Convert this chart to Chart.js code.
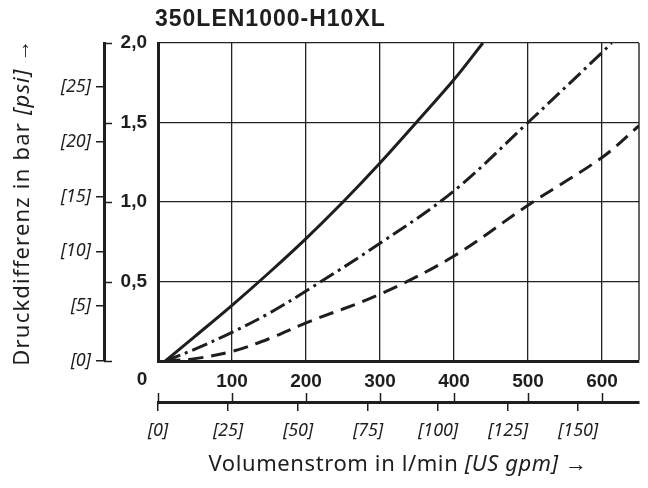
<!DOCTYPE html>
<html>
<head>
<meta charset="utf-8">
<script src="https://cdn.jsdelivr.net/npm/chart.js@4.4.1/dist/chart.umd.min.js"></script>
<style>
  body { margin: 0; background: #fff; }
  canvas { display: block; }
</style>
</head>
<body>
<canvas id="myChart" width="648" height="488"></canvas>
<script>
// flow in l/min, pressure drop in bar
const flowSolid = [10, 50, 100, 150, 200, 250, 300, 350, 400, 439];
const dpSolid = [0, 0.155, 0.35, 0.555, 0.77, 1.0, 1.245, 1.505, 1.77, 2.0];

const flowDashDot = [10, 50, 100, 150, 200, 300, 400, 500, 600, 613];
const dpDashDot = [0, 0.075, 0.18, 0.3, 0.44, 0.74, 1.07, 1.5, 1.94, 2.0];

const flowDashed = [10, 50, 100, 150, 200, 300, 400, 500, 600, 650];
const dpDashed = [0, 0.015, 0.06, 0.14, 0.24, 0.42, 0.66, 0.98, 1.28, 1.48];

const flowTicks = [0, 100, 200, 300, 400, 500, 600];
const gpmTicks = [0, 25, 50, 75, 100, 125, 150];
const barTicks = [0, 0.5, 1.0, 1.5, 2.0];
const psiTicks = [0, 5, 10, 15, 20, 25];

const FLOW_MAX = 650;
const LPM_PER_GPM = 3.785;
const PSI_PER_BAR = 14.5038;
const ink = '#1e1e1e';

const toPoints = (xs, ys) => xs.map((x, i) => ({ x: x, y: ys[i] }));

const extras = {
    id: 'extras',
    afterDraw(chart) {
        const c = chart.ctx;
        const x = chart.scales.x, y = chart.scales.y;
        const gpm = chart.scales.gpm, psi = chart.scales.psi;
        c.save();
        c.strokeStyle = ink;
        c.lineWidth = 1.5;
        // bar ticks pointing right from the outer axis line
        barTicks.forEach(v => {
            const py = Math.round(y.getPixelForValue(v)) + 0.5;
            c.beginPath();
            c.moveTo(psi.right, py);
            c.lineTo(psi.right + 8, py);
            c.stroke();
        });
        // l/min ticks on top of the gpm axis line
        flowTicks.forEach(v => {
            const px = Math.round(x.getPixelForValue(v)) + 0.5;
            c.beginPath();
            c.moveTo(px, gpm.top);
            c.lineTo(px, gpm.top - 9);
            c.stroke();
        });
        c.fillStyle = ink;
        // corner zero
        c.font = 'bold 19px "Liberation Sans"';
        c.textAlign = 'center';
        c.textBaseline = 'middle';
        c.fillText('0', x.left - 16, x.top + 19);
        // title
        c.font = 'bold 23px "Liberation Sans"';
        c.letterSpacing = '1px';
        c.textAlign = 'left';
        c.textBaseline = 'alphabetic';
        c.fillText('350LEN1000-H10XL', 155, 26);
        // axis titles with italic unit parts
        const drawParts = (list, size, spacing, cx, cy) => {
            const normal = size + 'px "Noto Sans"';
            const italic = 'italic ' + size + 'px "Noto Sans"';
            c.letterSpacing = spacing;
            let w = 0;
            list.forEach(p => { c.font = p[1] ? italic : normal; w += c.measureText(p[0]).width; });
            let px = cx - w / 2;
            list.forEach(p => {
                c.font = p[1] ? italic : normal;
                c.fillText(p[0], px, cy);
                px += c.measureText(p[0]).width;
            });
        };
        drawParts([['Volumenstrom in l/min ', false], ['[US gpm]', true], [' \u2192', false]], 22, '0.6px', 398, 471);
        c.translate(29, 202);
        c.rotate(-Math.PI / 2);
        drawParts([['Druckdifferenz in bar ', false], ['[psi]', true], [' \u2192', false]], 22, '1.2px', 0, 0);
        c.restore();
    }
};

const ctx = document.getElementById('myChart').getContext('2d');
const myChart = new Chart(ctx, {
    type: 'line',
    data: {
        datasets: [{
            data: toPoints(flowSolid, dpSolid),
            borderColor: ink,
            borderWidth: 3
        }, {
            data: toPoints(flowDashDot, dpDashDot),
            borderColor: ink,
            borderWidth: 3,
            borderDash: [16, 5, 3, 5]
        }, {
            data: toPoints(flowDashed, dpDashed),
            borderColor: ink,
            borderWidth: 3,
            borderDash: [15, 8]
        }]
    },
    options: {
        responsive: false,
        animation: false,
        devicePixelRatio: 1,
        layout: { padding: { top: 43, right: 6, bottom: 44, left: 0 } },
        elements: {
            point: { radius: 0 },
            line: { tension: 0.35, borderCapStyle: 'butt' }
        },
        plugins: { legend: { display: false }, tooltip: { enabled: false } },
        scales: {
            x: {
                type: 'linear',
                position: 'bottom',
                weight: 0,
                min: 0,
                max: FLOW_MAX,
                afterBuildTicks: s => { s.ticks = flowTicks.concat([FLOW_MAX]).map(v => ({ value: v })); },
                ticks: {
                    autoSkip: false,
                    maxRotation: 0,
                    padding: 9,
                    color: ink,
                    font: { family: 'Liberation Sans', weight: 'bold', size: 19 },
                    callback: v => (v === 0 || v === FLOW_MAX) ? '' : v
                },
                grid: {
                    drawTicks: false,
                    color: c => c.tick && c.tick.value === FLOW_MAX ? '#666' : '#222',
                    lineWidth: c => c.tick && c.tick.value === FLOW_MAX ? 2 : 1.3
                },
                border: { color: ink, width: 3 },
                afterFit: s => { s.height = 41; }
            },
            y: {
                position: 'left',
                weight: 0,
                min: 0,
                max: 2,
                afterBuildTicks: s => { s.ticks = barTicks.map(v => ({ value: v })); },
                ticks: {
                    padding: 11,
                    color: ink,
                    font: { family: 'Liberation Sans', weight: 'bold', size: 19 },
                    callback: v => v === 0 ? '' : v.toFixed(1).replace('.', ',')
                },
                grid: { drawTicks: false, color: '#222', lineWidth: 1.3 },
                border: { color: ink, width: 3 },
                afterFit: s => { s.width = 54; }
            },
            gpm: {
                type: 'linear',
                position: 'bottom',
                weight: 1,
                min: 0,
                max: FLOW_MAX / LPM_PER_GPM,
                afterBuildTicks: s => { s.ticks = gpmTicks.map(v => ({ value: v })); },
                ticks: {
                    autoSkip: false,
                    maxRotation: 0,
                    padding: 9,
                    color: ink,
                    font: { family: 'Noto Sans', style: 'italic', size: 18 },
                    callback: v => '[' + v + ']'
                },
                grid: { drawOnChartArea: false, drawTicks: true, tickLength: 9, color: ink, lineWidth: 1.5 },
                border: { color: ink, width: 3 },
                afterFit: s => { s.height = 42; }
            },
            psi: {
                position: 'left',
                weight: 1,
                min: 0,
                max: 2 * PSI_PER_BAR,
                afterBuildTicks: s => { s.ticks = psiTicks.map(v => ({ value: v })); },
                ticks: {
                    padding: 5,
                    color: ink,
                    font: { family: 'Noto Sans', style: 'italic', size: 18 },
                    callback: v => '[' + v + ']'
                },
                grid: { drawOnChartArea: false, drawTicks: true, tickLength: 8, color: ink, lineWidth: 1.5 },
                border: { color: ink, width: 3 },
                afterFit: s => { s.width = 104; }
            }
        }
    },
    plugins: [extras]
});
</script>
</body>
</html>
